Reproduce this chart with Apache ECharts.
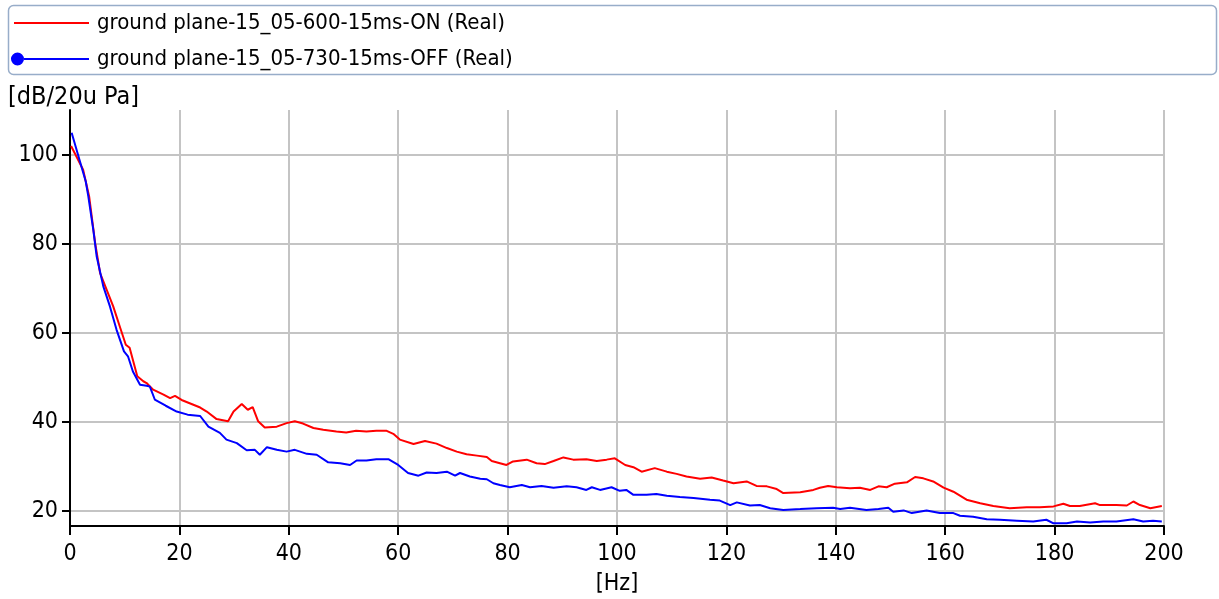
<!DOCTYPE html>
<html>
<head>
<meta charset="utf-8">
<script src="https://cdn.jsdelivr.net/npm/echarts@6/dist/echarts.min.js"></script>
<style>
  html, body { margin: 0; padding: 0; background: #fff; }
  #chart { width: 1219px; height: 599px; }
</style>
</head>
<body>
<div id="chart"></div>
<script>
// values
var onName = "ground plane-15_05-600-15ms-ON (Real)";
var offName = "ground plane-15_05-730-15ms-OFF (Real)";

var onHz = [0.2, 2.4, 3.5, 4.6, 5.5, 7.9, 9.1, 10.2, 10.9, 12.3, 13.4, 14.0, 15.2, 17.1, 18.3, 19.2, 20.4,
  23.8, 25.0, 26.8, 28.9, 29.9, 31.4, 32.5, 33.4, 34.4, 35.6, 37.8, 39.6, 41.1, 42.6, 44.5, 46.3, 48.7, 50.5,
  52.3, 54.2, 56.0, 57.8, 59.1, 60.3, 62.8, 64.9, 67.0, 68.9, 70.7, 72.5, 74.4, 76.2, 77.1, 78.6,
  79.8, 81.0, 83.5, 85.3, 86.8, 88.4, 90.2, 92.0, 94.4, 96.3, 98.1, 99.6, 101.5, 103.0, 104.5, 106.9,
  109.1, 110.9, 112.7, 115.2, 117.3, 119.4, 121.3, 123.7, 125.5, 127.4, 129.2, 130.4, 133.5,
  135.9, 137.1, 138.6, 140.2, 142.6, 144.4, 146.3, 147.8, 149.3, 150.8, 153.0, 154.5, 156.0, 157.8,
  159.7, 161.5, 163.9, 166.4, 168.8, 171.8, 174.9, 177.3, 179.8, 181.6, 182.8, 184.6, 187.4, 188.3,
  191.3, 193.2, 194.4, 195.6, 197.5, 199.6];
var onDb = [101.9, 96.6, 90.6, 80.1, 73.4, 65.9, 61.4, 57.3, 56.6, 50.2, 49.1, 48.7, 47.2, 46.1, 45.3, 45.8, 44.9,
  43.2, 42.3, 40.6, 40.1, 42.3, 44.0, 42.7, 43.3, 40.1, 38.7, 38.9, 39.7, 40.1, 39.6, 38.6, 38.2, 37.8, 37.6,
  38.0, 37.8, 38.0, 38.0, 37.3, 36.0, 35.0, 35.7, 35.1, 34.1, 33.3, 32.7, 32.4, 32.1, 31.2, 30.7,
  30.3, 31.1, 31.5, 30.7, 30.5, 31.2, 32.0, 31.5, 31.6, 31.2, 31.5, 31.8, 30.3, 29.8, 28.8, 29.6,
  28.8, 28.3, 27.7, 27.2, 27.5, 26.8, 26.2, 26.6, 25.6, 25.5, 24.9, 24.0, 24.2,
  24.7, 25.2, 25.6, 25.3, 25.1, 25.2, 24.7, 25.5, 25.3, 26.1, 26.4, 27.6, 27.3, 26.6,
  25.2, 24.3, 22.5, 21.7, 21.1, 20.6, 20.8, 20.8, 21.0, 21.6, 21.1, 21.1, 21.7, 21.3,
  21.3, 21.2, 22.1, 21.3, 20.6, 21.1];

var offHz = [0.3, 2.87, 3.35, 4.26, 4.88, 6.09, 7.3, 8.5, 9.87, 10.6, 11.5, 12.8, 14.0, 14.6, 15.5,
  17.5, 19.5, 21.5, 23.8, 25.3, 27.4, 28.6, 30.5, 32.3, 33.8, 34.7, 36.0, 37.8, 39.6, 41.1, 43.3, 45.1,
  47.2, 49.4, 51.2, 52.4, 54.2, 56.0, 58.2, 60.0, 61.8, 63.7, 65.2, 67.0, 68.9, 70.4, 71.3, 73.1, 75.0,
  76.2, 77.4, 78.6, 80.4, 82.6, 84.1, 86.2, 88.4, 90.8, 92.6, 94.4, 95.4, 96.9, 99.0, 100.5, 101.7,
  103.0, 105.4, 107.2, 109.1, 111.5, 114.0, 117.0, 118.8, 120.7, 121.9, 124.3, 126.1, 128.0, 130.4, 133.5,
  136.5, 139.5, 140.8, 142.6, 145.6, 147.8, 149.6, 150.5, 152.4, 153.9, 156.6, 159.0, 161.5, 162.7,
  165.1, 167.6, 170.0, 173.1, 176.1, 178.5, 179.8, 182.2, 184.1, 186.5, 188.9, 191.3, 194.4, 196.2,
  198.0, 199.6];
var offDb = [104.9, 94.0, 90.6, 83.1, 77.1, 70.4, 65.9, 60.7, 55.8, 54.7, 51.3, 48.3, 48.1, 47.9, 45.0,
  43.6, 42.3, 41.6, 41.3, 38.9, 37.5, 36.0, 35.2, 33.6, 33.7, 32.6, 34.3, 33.7, 33.3, 33.7, 32.8, 32.6,
  30.9, 30.7, 30.3, 31.3, 31.3, 31.6, 31.6, 30.3, 28.5, 27.9, 28.6, 28.5, 28.8, 27.9, 28.5, 27.7, 27.2,
  27.1, 26.2, 25.8, 25.3, 25.8, 25.3, 25.6, 25.2, 25.5, 25.3, 24.7, 25.3, 24.7, 25.3, 24.5, 24.7,
  23.6, 23.6, 23.8, 23.4, 23.1, 22.9, 22.5, 22.3, 21.3, 21.9, 21.2, 21.3, 20.6, 20.2, 20.4,
  20.6, 20.7, 20.4, 20.7, 20.2, 20.4, 20.7, 19.8, 20.1, 19.5, 20.1, 19.5, 19.5, 18.9,
  18.7, 18.1, 18.0, 17.8, 17.6, 18.0, 17.2, 17.2, 17.6, 17.4, 17.6, 17.6, 18.1, 17.6,
  17.8, 17.6];

var yTicks = [20, 40, 60, 80, 100];

function pairs(xs, ys) {
  return xs.map(function (x, i) { return [x, ys[i]]; });
}

var font = "'DejaVu Sans Condensed', 'DejaVu Sans', sans-serif";
var chart = echarts.init(document.getElementById("chart"));

var option = {
  animation: false,
  textStyle: { fontFamily: font },
  graphic: [
    {
      type: "rect",
      shape: { x: 8.5, y: 5.5, width: 1208, height: 69, r: 5 },
      style: { fill: "#fff", stroke: "#98adc9", lineWidth: 1.5 },
      z: -1
    },
    {
      type: "text",
      left: 8,
      top: 85,
      style: { text: "[dB/20u Pa]", font: "25px " + font, fill: "#000" }
    }
  ],
  legend: [
    {
      data: [onName],
      left: 14,
      top: 12,
      padding: 0,
      icon: "rect",
      itemWidth: 75,
      itemHeight: 2,
      selectedMode: false,
      itemStyle: { borderWidth: 0 },
      textStyle: { fontSize: 22, color: "#000", fontFamily: font, padding: [0, 0, 0, 3] }
    },
    {
      data: [offName],
      left: 11,
      top: 48,
      padding: 0,
      icon: "path://M0,6.5a6.5,6.5 0 1,0 13,0a6.5,6.5 0 1,0 -13,0zM13,5.5h65v2h-65z",
      itemWidth: 78,
      itemHeight: 13,
      selectedMode: false,
      itemStyle: { borderWidth: 0 },
      textStyle: { fontSize: 22, color: "#000", fontFamily: font, padding: [0, 0, 0, 3] }
    }
  ],
  grid: { left: 70, right: 55, top: 110, bottom: 73, outerBoundsMode: "none" },
  xAxis: {
    type: "value",
    min: 0,
    max: 200,
    interval: 20,
    name: "[Hz]",
    nameLocation: "middle",
    nameGap: 47,
    nameTextStyle: { fontSize: 23, color: "#000" },
    axisLine: { onZero: false, lineStyle: { color: "#000", width: 2 } },
    axisTick: { length: 9, lineStyle: { color: "#000", width: 2 } },
    axisLabel: { fontSize: 23, color: "#000", margin: 17 },
    splitLine: { lineStyle: { color: "#c4c4c4", width: 2 } }
  },
  yAxis: {
    type: "value",
    min: 16.6,
    max: 110,
    axisLine: { show: true, lineStyle: { color: "#000", width: 2 } },
    axisTick: { show: true, length: 8, customValues: yTicks, lineStyle: { color: "#000", width: 2 } },
    axisLabel: { fontSize: 23, color: "#000", margin: 12, customValues: yTicks },
    splitLine: { lineStyle: { color: "#c4c4c4", width: 2 } }
  },
  series: [
    {
      name: onName,
      type: "line",
      showSymbol: false,
      data: pairs(onHz, onDb),
      itemStyle: { color: "#ff0000" },
      lineStyle: { color: "#ff0000", width: 2 }
    },
    {
      name: offName,
      type: "line",
      showSymbol: false,
      data: pairs(offHz, offDb),
      itemStyle: { color: "#0000ff" },
      lineStyle: { color: "#0000ff", width: 2 }
    }
  ]
};

chart.setOption(option);
</script>
</body>
</html>
